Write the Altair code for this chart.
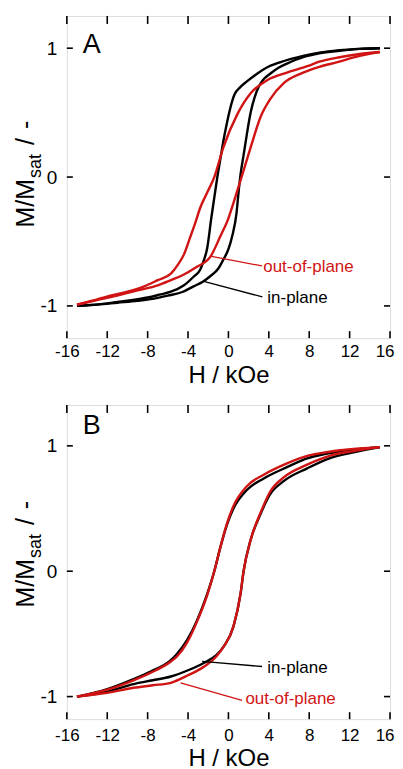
import altair as alt
import pandas as pd

FONT = "Liberation Sans"
BLACK = "#000000"
RED = "#d01414"

# ---------------- data ----------------
x_ticks = [-16, -12, -8, -4, 0, 4, 8, 12, 16]
y_ticks = [-1, 0, 1]

# Panel A - in-plane (black)
A_ip_desc_H = [15, 13, 11, 9, 7.4, 5.1, 3.8, 2.8, 1.8, 1.2, 0.6, 0.2, -0.2, -0.5, -0.8, -1.1, -1.4, -1.7, -2.1, -2.5, -2.8, -3.4, -4.4, -5.7, -6.7, -8, -10, -12, -14, -15]
A_ip_desc_M = [1.0, 0.995, 0.985, 0.965, 0.94, 0.89, 0.85, 0.80, 0.74, 0.70, 0.64, 0.54, 0.40, 0.28, 0.14, 0.0, -0.16, -0.32, -0.55, -0.66, -0.72, -0.77, -0.84, -0.89, -0.91, -0.935, -0.96, -0.98, -0.995, -1.0]
A_ip_asc_H = [-15, -13, -11, -9, -7.5, -6, -4.5, -3.5, -2.5, -1.8, -1.0, -0.5, 0.0, 0.4, 0.8, 1.0, 1.2, 1.5, 1.8, 2.2, 2.6, 3.0, 3.5, 4.1, 5.0, 5.8, 7.4, 9, 11, 13, 15]
A_ip_asc_M = [-1.0, -0.99, -0.975, -0.96, -0.945, -0.92, -0.89, -0.85, -0.81, -0.77, -0.71, -0.64, -0.56, -0.45, -0.28, -0.12, 0.02, 0.17, 0.32, 0.50, 0.62, 0.70, 0.76, 0.80, 0.85, 0.88, 0.93, 0.96, 0.98, 0.995, 1.0]
# Panel A - out-of-plane (red)
A_oop_desc_H = [15, 13, 11, 9, 7.8, 5.8, 3.8, 2.2, 0.9, -0.5, -1.4, -2.1, -2.8, -3.3, -3.8, -4.4, -5.0, -5.7, -7, -8.4, -10, -11.7, -13.5, -15]
A_oop_desc_M = [0.97, 0.955, 0.93, 0.895, 0.86, 0.81, 0.75, 0.65, 0.49, 0.23, 0.0, -0.12, -0.24, -0.36, -0.47, -0.60, -0.68, -0.75, -0.80, -0.85, -0.89, -0.92, -0.96, -0.99]
A_oop_asc_H = [-15, -13, -11, -9, -7, -5.7, -4.5, -3.2, -1.8, -0.8, 0.0, 0.5, 1.3, 2.2, 3.2, 4.1, 5.5, 7.4, 9, 10.7, 13, 15]
A_oop_asc_M = [-0.99, -0.955, -0.92, -0.88, -0.84, -0.80, -0.76, -0.70, -0.62, -0.46, -0.32, -0.2, 0.0, 0.23, 0.47, 0.60, 0.73, 0.81, 0.855, 0.89, 0.94, 0.97]

# Panel B
B_desc_H = [15, 13, 11, 9, 7.8, 5.8, 3.5, 1.85, 0.5, -0.15, -0.8, -1.4, -2.1, -3.1, -4.1, -5.1, -5.7, -7.7, -9.4, -12, -15]
B_ip_desc_M = [0.99, 0.975, 0.955, 0.925, 0.90, 0.83, 0.74, 0.65, 0.50, 0.37, 0.19, 0.0, -0.18, -0.39, -0.55, -0.66, -0.71, -0.80, -0.86, -0.94, -1.0]
B_oop_desc_M = [0.99, 0.98, 0.965, 0.94, 0.92, 0.86, 0.77, 0.68, 0.52, 0.38, 0.19, 0.0, -0.19, -0.40, -0.57, -0.68, -0.72, -0.81, -0.87, -0.945, -1.0]
B_asc_H = [-15, -12, -9.4, -7.5, -5.7, -4, -2.4, -1.2, -0.46, 0.5, 1.2, 1.5, 2.2, 3.2, 4.1, 5.5, 7.8, 10, 12.5, 15]
B_ip_asc_M = [-1.0, -0.96, -0.90, -0.87, -0.84, -0.79, -0.73, -0.67, -0.60, -0.44, -0.18, 0.0, 0.25, 0.46, 0.61, 0.72, 0.82, 0.90, 0.95, 0.99]
B_oop_asc_M = [-1.0, -0.97, -0.93, -0.91, -0.89, -0.83, -0.76, -0.68, -0.60, -0.44, -0.18, 0.0, 0.25, 0.47, 0.63, 0.75, 0.85, 0.92, 0.96, 0.99]

# annotations: leader line (H, M) -> (H2, M2), label anchor (tH, tM)
A_ann_label = ["in-plane", "out-of-plane"]
A_ann_H = [-2.44, -1.68]
A_ann_M = [-0.81, -0.615]
A_ann_H2 = [3.36, 3.33]
A_ann_M2 = [-0.93, -0.69]
A_ann_tH = [3.85, 3.45]
A_ann_tM = [-0.935, -0.70]

B_ann_label = ["in-plane", "out-of-plane"]
B_ann_H = [-2.6, -4.74]
B_ann_M = [-0.72, -0.89]
B_ann_H2 = [3.33, 1.35]
B_ann_M2 = [-0.76, -1.03]
B_ann_tH = [3.85, 1.68]
B_ann_tM = [-0.77, -1.02]

W = 324


def curve_df(H, M, branch):
    return pd.DataFrame({"H": H, "M": M, "branch": branch})


def panel(letter, ydom, h, ip, oop, ann, letter_y, ytitle_y, lab_pad, title_y):
    xs = alt.Scale(domain=[-16, 16], nice=False, zero=False)
    ys = alt.Scale(domain=ydom, nice=False, zero=False)
    xaxis = alt.Axis(values=x_ticks, title="H / kOe", ticks=False, domain=False, grid=False,
                     labelPadding=lab_pad, labelFontSize=17, labelFont=FONT, labelColor="black",
                     labelFlush=False,
                     labelAlign=alt.condition("datum.value == 16", alt.value("right"), alt.value("center")),
                     labelOffset=alt.condition("datum.value == 16", alt.value(4), alt.value(0)),
                     labelExpr="(datum.value < 0 ? '-' : '') + abs(datum.value)",
                     titleFont=FONT, titleFontSize=24, titleFontWeight="normal",
                     titleColor="black", titleY=title_y, titleBaseline="top")
    yaxis = alt.Axis(values=y_ticks, title=None, ticks=False, domain=False, grid=False,
                     labelPadding=10, labelFontSize=19, labelFont=FONT, labelColor="black",
                     labelFlush=False,
                     labelExpr="(datum.value < 0 ? '-' : '') + abs(datum.value)")
    X = alt.X("H:Q", scale=xs, axis=xaxis)
    Y = alt.Y("M:Q", scale=ys, axis=yaxis)

    ip_df = pd.concat([curve_df(ip[0], ip[1], "desc"), curve_df(ip[2], ip[3], "asc")])
    oop_df = pd.concat([curve_df(oop[0], oop[1], "desc"), curve_df(oop[2], oop[3], "asc")])

    black = alt.Chart(ip_df).mark_line(color=BLACK, strokeWidth=2.4, interpolate="monotone").encode(
        x=X, y=Y, detail="branch:N", order="H:Q")
    red = alt.Chart(oop_df).mark_line(color=RED, strokeWidth=2.4, interpolate="monotone").encode(
        x=X, y=Y, detail="branch:N", order="H:Q")

    labels, H1, M1, H2, M2, tH, tM = ann
    ann_df = pd.DataFrame({"label": labels, "H": H1, "M": M1, "H2": H2, "M2": M2,
                           "tH": tH, "tM": tM})
    col = alt.Color("label:N", scale=alt.Scale(domain=["in-plane", "out-of-plane"],
                                                range=[BLACK, RED]), legend=None)
    lead = alt.Chart(ann_df).mark_rule(strokeWidth=1.3).encode(
        x=X, y=Y, x2="H2:Q", y2="M2:Q", color=col)
    txt = alt.Chart(ann_df).mark_text(align="left", baseline="middle", font=FONT,
                                      fontSize=17).encode(
        x=alt.X("tH:Q", scale=xs, axis=xaxis), y=alt.Y("tM:Q", scale=ys, axis=yaxis),
        text="label:N", color=col)

    xt = pd.DataFrame({"H": x_ticks})
    yt = pd.DataFrame({"M": y_ticks})
    tb = alt.Chart(xt).mark_rule(color="black", strokeWidth=1.6).encode(
        x=X, y=alt.value(h), y2=alt.value(h - 7))
    tt = alt.Chart(xt).mark_rule(color="black", strokeWidth=1.6).encode(
        x=X, y=alt.value(0), y2=alt.value(8))
    tl = alt.Chart(yt).mark_rule(color="black", strokeWidth=1.6).encode(
        y=Y, x=alt.value(0), x2=alt.value(6))
    tr = alt.Chart(yt).mark_rule(color="black", strokeWidth=1.6).encode(
        y=Y, x=alt.value(W - 6), x2=alt.value(W))

    one = pd.DataFrame({"s": [letter]})
    let = alt.Chart(one).mark_text(align="left", baseline="alphabetic", font=FONT,
                                   fontSize=27, color="black").encode(
        text="s:N", x=alt.value(16), y=alt.value(letter_y))

    # y-axis title "M/M_sat / -" built from parts
    fs_main, fs_sub = 25, 18
    w1 = 1.944 * fs_main
    w2 = 1.334 * fs_sub
    parts = pd.DataFrame({
        "s": ["M/M", "sat", "/", "-"],
        "px": [-33, -26, -33, -33],
        "py": [ytitle_y, ytitle_y - w1 - 1, ytitle_y - w1 - w2 - 10,
               ytitle_y - w1 - w2 - 10 - 0.278 * fs_main - 9],
        "fs": [fs_main, fs_sub, fs_main, fs_main],
    })
    yt_txt = alt.Chart(parts).mark_text(align="left", baseline="alphabetic", angle=270,
                                        font=FONT, color="black").encode(
        text="s:N", x=alt.X("px:Q", scale=None), y=alt.Y("py:Q", scale=None),
        size=alt.Size("fs:Q", scale=None, legend=None))

    return alt.layer(tb, tt, tl, tr, black, red, lead, txt, let, yt_txt).properties(
        width=W, height=h)


pA = panel("A", [-1.25, 1.25], 323,
           (A_ip_desc_H, A_ip_desc_M, A_ip_asc_H, A_ip_asc_M),
           (A_oop_desc_H, A_oop_desc_M, A_oop_asc_H, A_oop_asc_M),
           (A_ann_label, A_ann_H, A_ann_M, A_ann_H2, A_ann_M2, A_ann_tH, A_ann_tM),
           36.7, 212, 5, 25)
pB = panel("B", [-1.18, 1.326], 315,
           (B_desc_H, B_ip_desc_M, B_asc_H, B_ip_asc_M),
           (B_desc_H, B_oop_desc_M, B_asc_H, B_oop_asc_M),
           (B_ann_label, B_ann_H, B_ann_M, B_ann_H2, B_ann_M2, B_ann_tH, B_ann_tM),
           29.5, 203, 8, 27)

chart = alt.vconcat(pA, pB, spacing=15).properties(
    padding={"left": 5, "top": 5, "right": 0, "bottom": 0}
).configure_view(stroke="black", strokeWidth=2).configure(background="white")

chart.save("out.html", embed_options={"renderer": "svg", "actions": False})
